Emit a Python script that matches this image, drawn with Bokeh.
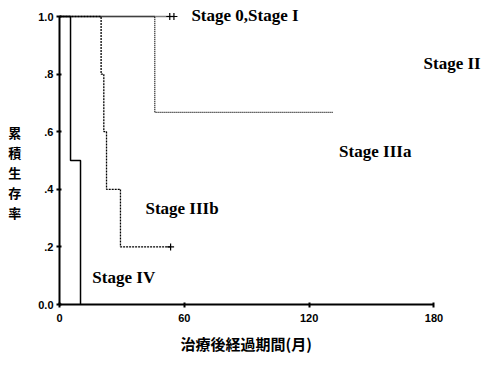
from bokeh.plotting import figure
from bokeh.models import Range1d, Title, FixedTicker, ColumnDataSource
from bokeh.core.properties import value
from bokeh.embed import file_html
from bokeh.resources import INLINE

# Kaplan-Meier style survival steps (months, cumulative survival)
stage_iv_t = [0, 5.3, 10.1]
stage_iv_s = [1.0, 0.5, 0.0]

stage_iiib_t = [0, 20.0, 21.3, 22.6, 29.3, 53.4]
stage_iiib_s = [1.0, 0.8, 0.6, 0.4, 0.2, 0.2]

stage_iiia_t = [0, 45.8, 131.5]
stage_iiia_s = [1.0, 0.667, 0.667]

stage_0i_t = [0, 55.0]
stage_0i_s = [1.0, 1.0]

censor_t = [53.0, 55.0, 53.4]
censor_s = [1.0, 1.0, 0.2]

labels = ["Stage 0,Stage I", "Stage II", "Stage IIIa", "Stage IIIb", "Stage IV"]
label_x = [63.4, 175.0, 134.4, 41.3, 15.8]
label_y = [1.003, 0.837, 0.531, 0.333, 0.094]

x_ticks = [0, 60, 120, 180]
y_ticks = [0, 0.2, 0.4, 0.6, 0.8, 1.0]
y_tick_labels = ["0.0", ".2", ".4", ".6", ".8", "1.0"]

x_title = "治療後経過期間(月)"
y_title = "\n\n累\n積\n生\n存\n率"

p = figure(width=488, height=366, output_backend="svg", toolbar_location=None,
           x_range=Range1d(0, 206.2), y_range=Range1d(0, 1.0556),
           min_border_left=59, min_border_right=0, min_border_top=0,
           min_border_bottom=62)
p.outline_line_color = None
p.xgrid.visible = False
p.ygrid.visible = False
p.background_fill_color = "white"

p.step(stage_iv_t, stage_iv_s, mode="after", line_color="black", line_width=1.5)
p.step(stage_iiib_t, stage_iiib_s, mode="after", line_color="black",
       line_width=1.3, line_dash="2 1")
p.step(stage_iiia_t, stage_iiia_s, mode="after", line_color="black",
       line_width=1.3, line_dash="1 1")
p.step(stage_0i_t, stage_0i_s, mode="after", line_color="black",
       line_width=1.3, line_dash="1 1")
p.scatter(censor_t, censor_s, marker="cross", size=7, line_color="black",
          line_width=1.2)

src = ColumnDataSource(dict(x=label_x, y=label_y, t=labels))
p.text(x="x", y="y", text="t", source=src, text_font=value("Liberation Serif"),
       text_font_style="bold", text_font_size="17px", text_align="left",
       text_baseline="middle", text_color="black")

for ax in (p.xaxis[0], p.yaxis[0]):
    ax.axis_line_width = 2
    ax.axis_line_color = "black"
    ax.major_tick_in = 2
    ax.major_tick_out = 3
    ax.major_tick_line_width = 2
    ax.minor_tick_line_color = None
    ax.major_label_text_font = "Liberation Sans"
    ax.major_label_text_font_style = "bold"
    ax.major_label_text_font_size = "11px"
    ax.major_label_text_color = "black"

p.xaxis.ticker = FixedTicker(ticks=x_ticks)
p.xaxis.bounds = (0, 180)
p.yaxis.ticker = FixedTicker(ticks=y_ticks)
p.yaxis.bounds = (0, 1)
p.yaxis.major_label_overrides = {t: l for t, l in zip(y_ticks, y_tick_labels)}
p.xaxis.major_label_standoff = 6
p.yaxis.major_label_standoff = 3

p.yaxis.axis_label = y_title
p.yaxis.axis_label_orientation = "horizontal"
p.yaxis.axis_label_standoff = 14
p.yaxis.axis_label_text_font = "Noto Sans CJK JP"
p.yaxis.axis_label_text_font_style = "bold"
p.yaxis.axis_label_text_font_size = "13px"
p.yaxis.axis_label_text_line_height = 1.05
p.yaxis.axis_label_text_color = "black"

p.add_layout(Title(text=x_title, align="left", offset=121, standoff=12,
                   text_font="Noto Sans CJK JP", text_font_style="bold",
                   text_font_size="15px", text_color="black"), "below")

open("out.html", "w").write(file_html(p, INLINE))
